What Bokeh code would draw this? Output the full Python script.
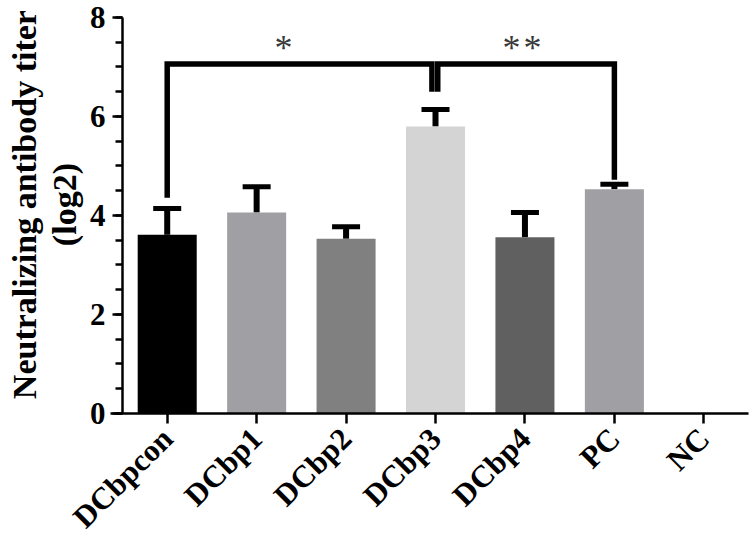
import math
from bokeh.plotting import figure
from bokeh.models import Range1d, FixedTicker, Whisker, TeeHead, ColumnDataSource
from bokeh.core.properties import value
from bokeh.embed import file_html
from bokeh.resources import INLINE

# ---- data ----
groups = ["DCbpcon", "DCbp1", "DCbp2", "DCbp3", "DCbp4", "PC", "NC"]
titer_mean = [3.61, 4.06, 3.53, 5.80, 3.56, 4.53, 0.0]
titer_upper = [4.14, 4.58, 3.77, 6.14, 4.06, 4.63, 0.0]
bar_colors = ["#000000", "#a0a0a4", "#808080", "#d4d4d4", "#606060", "#a0a0a4", "#ffffff"]

# significance brackets (group indices)
sig_left = [0, 3]
sig_right = [3, 5]
sig_height = [7.06, 7.06]
sig_left_end = [4.36, 6.50]
sig_right_end = [6.50, 4.72]
sig_labels = ["*", "**"]

y_ticks = [0, 2, 4, 6, 8]
y_minor = [0.5 * i for i in range(17)]
y_title = ["Neutralizing antibody titer", "(log2)"]

SERIF = "Liberation Serif"

# category centres on a numeric axis (one unit per group)
centers = [i + 0.5 for i in range(len(groups))]

p = figure(x_range=Range1d(-1.364, 7.022), y_range=Range1d(-2.566, 8.343),
           width=750, height=540, output_backend="svg", toolbar_location=None,
           min_border=0, min_border_left=0, min_border_right=0,
           min_border_top=0, min_border_bottom=0)
p.outline_line_color = None
p.xgrid.grid_line_color = None
p.ygrid.grid_line_color = None
p.background_fill_color = "white"
p.border_fill_color = "white"

src = ColumnDataSource(dict(x=centers, m=titer_mean, c=bar_colors))
p.vbar(x="x", top="m", width=0.66, source=src, fill_color="c", line_color=None)

# error bars (upper only)
n_err = 6
esrc = ColumnDataSource(dict(x=centers[:n_err], lo=titer_mean[:n_err], up=titer_upper[:n_err]))
wh = Whisker(base="x", lower="lo", upper="up", source=esrc, dimension="height",
             line_width=6, line_color="black", line_cap="butt",
             upper_head=TeeHead(size=28, line_width=5, line_color="black"),
             lower_head=None)
p.add_layout(wh)

# significance brackets
leg_off = [(0.0, -0.04), (0.025, 0.0)]
star_shift = [-0.18, -0.045]
for i in range(len(sig_left)):
    lo_off, ro_off = leg_off[i]
    xl = centers[sig_left[i]] + lo_off
    xr = centers[sig_right[i]] + ro_off
    p.line(x=[xl, xl, xr, xr],
           y=[sig_left_end[i], sig_height[i], sig_height[i], sig_right_end[i]],
           line_width=5.5, line_color="black", line_join="miter", line_cap="butt")
    n = len(sig_labels[i])
    mid = (xl + xr) / 2 + star_shift[i]
    offs = [(k - (n - 1) / 2) * 21 for k in range(n)]
    p.text(x=[mid] * n, y=[sig_height[i] + 0.33] * n, x_offset=offs,
           text=["*"] * n, text_font=value(SERIF), text_font_size="36px",
           text_color="#3a3a3a", text_align="center", text_baseline="alphabetic")

# y-axis title (two lines), placed left of the y axis
p.text(x=[0, 0], y=[4.22, 4.22], x_offset=[-98, -58], text=y_title, angle=math.pi / 2,
       text_font=value(SERIF), text_font_style="bold", text_font_size="34px",
       text_color="black", text_align="center", text_baseline="alphabetic")

# axes
ya = p.yaxis[0]
ya.fixed_location = 0
ya.bounds = (0, 8)
ya.ticker = FixedTicker(ticks=y_ticks, minor_ticks=y_minor)
ya.axis_line_width = 2.5
ya.major_tick_line_width = 2.5
ya.minor_tick_line_width = 2.5
ya.major_tick_out = 10
ya.major_tick_in = 0
ya.minor_tick_out = 7
ya.minor_tick_in = 0
ya.major_label_text_font = SERIF
ya.major_label_text_font_style = "bold"
ya.major_label_text_font_size = "31px"
ya.major_label_text_color = "black"
ya.major_label_standoff = 7

xa = p.xaxis[0]
xa.fixed_location = 0
xa.bounds = (-0.134, 7.0)
xa.ticker = FixedTicker(ticks=centers)
xa.major_label_overrides = {c: g for c, g in zip(centers, groups)}
xa.axis_line_width = 2.5
xa.major_tick_line_width = 2.5
xa.major_tick_out = 10
xa.major_tick_in = 0
xa.minor_tick_out = 0
xa.major_label_orientation = math.pi / 4
xa.major_label_text_font = SERIF
xa.major_label_text_font_style = "bold"
xa.major_label_text_font_size = "31px"
xa.major_label_text_color = "black"
xa.major_label_standoff = 10

open("out.html", "w").write(file_html(p, INLINE))
